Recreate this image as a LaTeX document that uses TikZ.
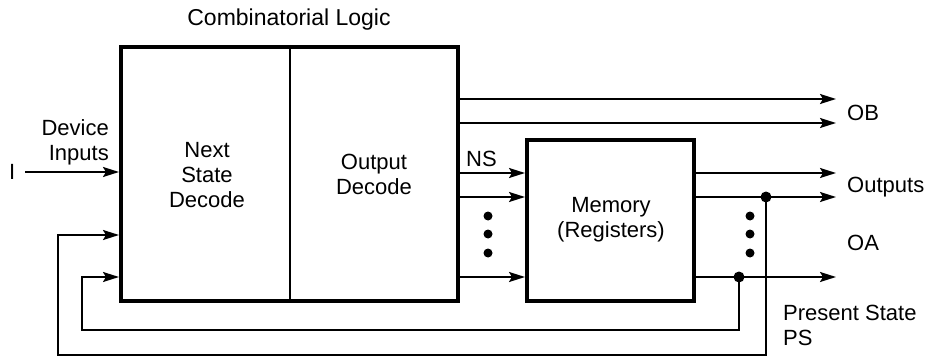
\documentclass[tikz,border=0pt]{standalone}
\usepackage{fontspec}
\setmainfont{Liberation Sans}
\usetikzlibrary{arrows.meta}
\begin{document}
\begin{tikzpicture}[x=1pt,y=-1pt,
  thickbox/.style={draw,line width=4pt,rectangle,inner sep=0pt},
  lbl/.style={font=\fontsize{22}{25}\selectfont,inner sep=0pt,align=center},
  wire/.style={line width=2pt},
  arr/.style={wire,-{Stealth[length=16pt,width=10pt,inset=3pt]}},
  dot/.style={circle,fill,inner sep=0pt,minimum size=9pt},
  jdot/.style={circle,fill,inner sep=0pt,minimum size=11pt}]
\useasboundingbox (0,0) rectangle (933,358);
% boxes
\node[thickbox,minimum width=337pt,minimum height=254pt] (comb) at (289.5,174) {};
\node[thickbox,minimum width=167pt,minimum height=161pt] (mem) at (610.5,220.5) {};
\draw[line width=2pt] (comb.north -| 290,0) -- (comb.south -| 290,0);
% texts
\node[lbl,font=\fontsize{23}{26}\selectfont] (title) at (289,20) {Combinatorial Logic};
\node[lbl] (nsd) at (207,175) {Next\\State\\Decode};
\node[lbl] (od) at (374,174) {Output\\Decode};
\node[lbl] (memt) at (611,220) {Memory\\(Registers)};
\node[lbl,align=right,anchor=east] (dev) at (109,142) {Device\\Inputs};
\node[lbl,anchor=west] (I) at (9,172) {I};
\node[lbl,anchor=west] (ns) at (466,159) {NS};
\node[lbl,anchor=west] (ob) at (847,113) {OB};
\node[lbl,anchor=west] (outs) at (847,187) {Outputs};
\node[lbl,anchor=west] (oa) at (847,243) {OA};
\node[lbl,align=left,anchor=west] (ps) at (783,325) {Present State\\PS};
% coordinates
\coordinate (obA) at (836,99);
\coordinate (obB) at (836,123);
\coordinate (o1) at (836,173);
\coordinate (o2) at (836,197);
\coordinate (o3) at (836,277);
\coordinate (n1) at (0,173);
\coordinate (n2) at (0,197);
\coordinate (n3) at (0,277);
\coordinate (inI) at (25,172);
\node[jdot] (j1) at (766,197) {};
\node[jdot] (j2) at (739,277) {};
\coordinate (c1) at (766,355);
\coordinate (c2) at (58,355);
\coordinate (c3) at (58,235);
\coordinate (d1) at (739,330);
\coordinate (d2) at (82,330);
\coordinate (d3) at (82,277);
% wires
\draw[arr] (comb.east |- obA) -- (obA);
\draw[arr] (comb.east |- obB) -- (obB);
\draw[arr] (comb.east |- n1) -- (mem.west |- n1);
\draw[arr] (comb.east |- n2) -- (mem.west |- n2);
\draw[arr] (comb.east |- n3) -- (mem.west |- n3);
\draw[arr] (mem.east |- o1) -- (o1);
\draw[arr] (mem.east |- o2) -- (o2);
\draw[arr] (mem.east |- o3) -- (o3);
\draw[arr] (inI) -- (comb.west |- inI);
\draw[arr] (j1.center) -- (c1) -- (c2) -- (c3) -- (comb.west |- c3);
\draw[arr] (j2.center) -- (d1) -- (d2) -- (d3) -- (comb.west |- d3);
% dots
\foreach \y in {216,234,253} {
  \node[dot] at (488,\y) {};
  \node[dot] at (750,\y) {};
}
\end{tikzpicture}
\end{document}
